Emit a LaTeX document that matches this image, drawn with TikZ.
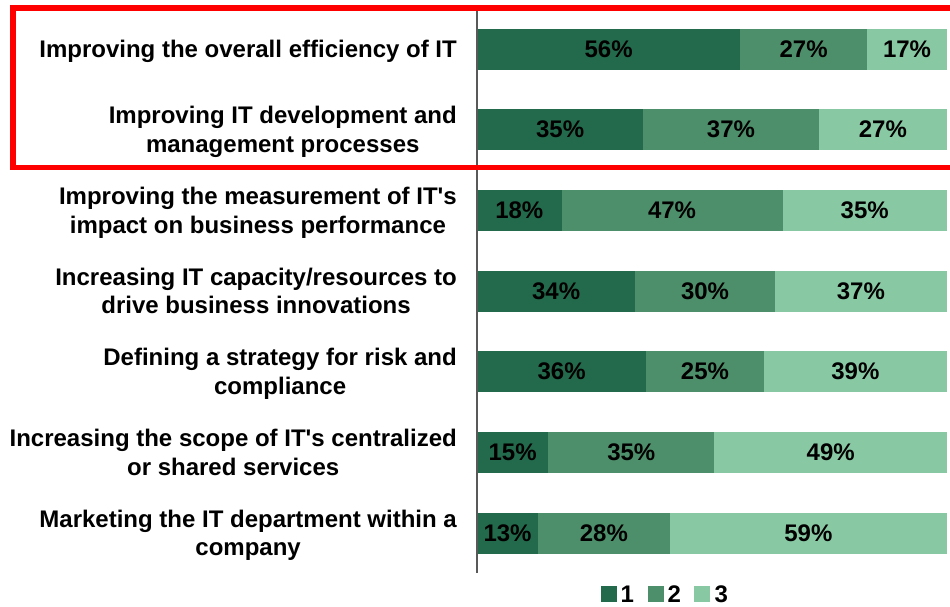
\documentclass[tikz,border=0pt]{standalone}
\usepackage{fontspec}
\setmainfont{Liberation Sans}[Ligatures=TeXOff]
\definecolor{cA}{HTML}{236A4C}
\definecolor{cB}{HTML}{4E8F6B}
\definecolor{cC}{HTML}{88C9A4}
\definecolor{axisgray}{HTML}{595959}
\begin{document}
\begin{tikzpicture}[x=1pt,y=-1pt,
  txt/.style={font=\bfseries\fontsize{24}{28.8}\selectfont},
  lbl/.style={txt, align=center, anchor=base east, inner sep=0pt},
  seg/.style={txt, draw=none, inner sep=0pt, outer sep=0pt, minimum height=41pt, anchor=west},
  legsq/.style={draw=none, inner sep=0pt, outer sep=0pt, minimum size=16pt, anchor=west},
  legtx/.style={txt, inner sep=0pt, anchor=base west}]
\useasboundingbox (0,0) rectangle (950,606);
\clip (0,0) rectangle (950,606);
% bars
\foreach \i/\a/\b/\c in {1/56/27/17, 2/35/37/27, 3/18/47/35, 4/34/30/37, 5/36/25/39, 6/15/35/49, 7/13/28/59}{
  \pgfmathsetmacro\s{100/(\a+\b+\c)}
  \pgfmathsetmacro\wa{4.7*\a*\s}
  \pgfmathsetmacro\wb{4.7*\b*\s}
  \pgfmathsetmacro\wc{4.7*\c*\s}
  \pgfmathsetmacro\yc{49+80.67*(\i-1)}
  \node[seg, fill=cA, minimum width=\wa pt] (b\i a) at (477,\yc) {\a\%};
  \node[seg, fill=cB, minimum width=\wb pt] (b\i b) at (b\i a.east) {\b\%};
  \node[seg, fill=cC, minimum width=\wc pt] (b\i c) at (b\i b.east) {\c\%};
}
% category labels (base anchor = baseline of the last line)
\node[lbl] (c1) at (457,57.5) {Improving the overall efficiency of IT};
\node[lbl] (c2) at (457,152.6) {Improving IT development and\\management processes};
\node[lbl] (c3) at (457,233.2) {Improving the measurement of IT's\\impact on business performance};
\node[lbl] (c4) at (457,313.9) {Increasing IT capacity/resources to\\drive business innovations};
\node[lbl] (c5) at (457,394.6) {Defining a strategy for risk and\\compliance};
\node[lbl] (c6) at (457,475.2) {Increasing the scope of IT's centralized\\or shared services};
\node[lbl] (c7) at (457,555.9) {Marketing the IT department within a\\company};
% axis
\coordinate (axtop) at (477,8);
\coordinate (axbot) at (477,573);
\draw[axisgray, line width=1.3pt] (axtop) -- (axbot);
% highlight box
\draw[red, line width=5.5pt] (13,8) rectangle (958,167.5);
% legend
\node[legsq, fill=cA] (l1) at (601,593.5) {};
\node[legtx] (t1) at (620.5,602) {1};
\node[legsq, fill=cB] (l2) at (648,593.5) {};
\node[legtx] (t2) at (667.5,602) {2};
\node[legsq, fill=cC] (l3) at (694,593.5) {};
\node[legtx] (t3) at (714.5,602) {3};
\end{tikzpicture}
\end{document}
